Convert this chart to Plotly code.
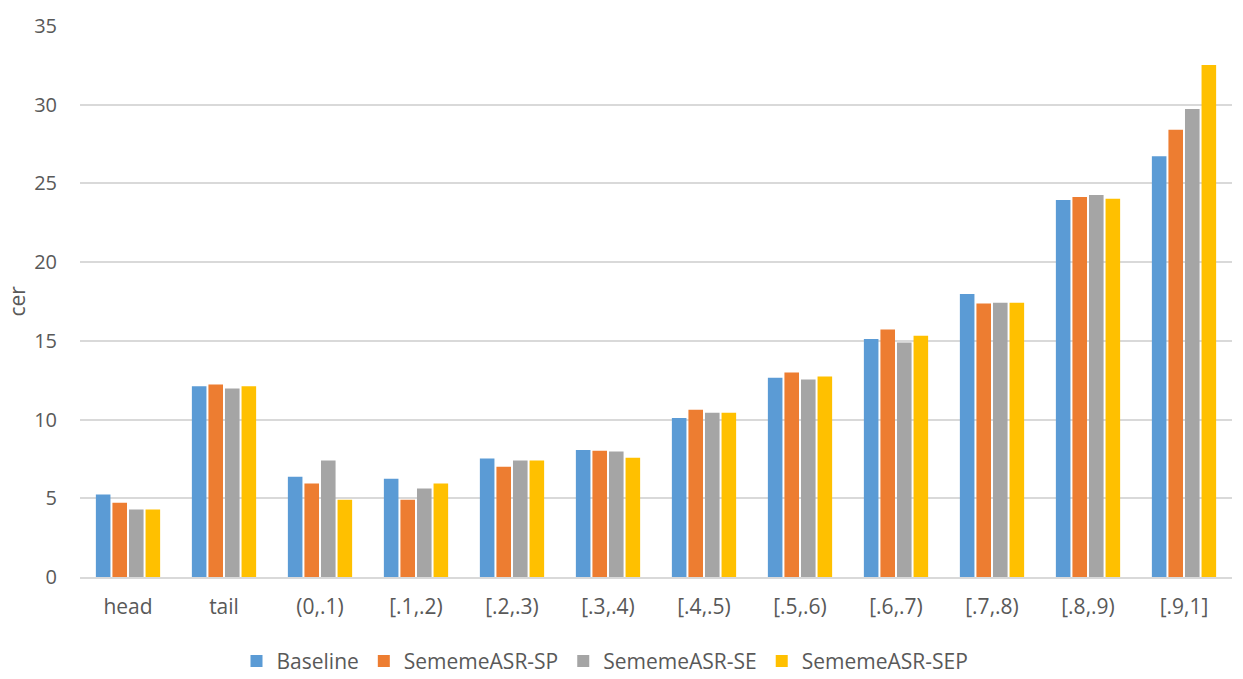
import plotly.graph_objects as go

categories = ["head", "tail", "(0,.1)", "[.1,.2)", "[.2,.3)", "[.3,.4)", "[.4,.5)",
              "[.5,.6)", "[.6,.7)", "[.7,.8)", "[.8,.9)", "[.9,1]"]
baseline = [5.24, 12.11, 6.37, 6.24, 7.52, 8.07, 10.10, 12.66, 15.12, 17.98, 23.94, 26.73]
sp = [4.71, 12.23, 5.94, 4.91, 7.00, 8.02, 10.63, 12.99, 15.72, 17.37, 24.14, 28.41]
se = [4.29, 11.98, 7.40, 5.62, 7.40, 7.97, 10.43, 12.54, 14.89, 17.42, 24.27, 29.73]
sep = [4.29, 12.11, 4.91, 5.94, 7.40, 7.57, 10.43, 12.74, 15.32, 17.42, 24.02, 32.52]

series = [
    ("Baseline", baseline, "#5B9BD5"),
    ("SememeASR-SP", sp, "#ED7D31"),
    ("SememeASR-SE", se, "#A5A5A5"),
    ("SememeASR-SEP", sep, "#FFC000"),
]

FONT = "Open Sans"
TXT = "#595959"
W, H = 1235, 671
L, R, T, B = 72, 11, 18, 102
PW = W - L - R

fig = go.Figure()
for name, vals, col in series:
    fig.add_trace(go.Bar(name=name, x=categories, y=vals, marker=dict(color=col, line=dict(width=0))))

fig.update_layout(
    width=W, height=H,
    barmode="group", bargap=0.31, bargroupgap=0.12,
    plot_bgcolor="white", paper_bgcolor="white",
    margin=dict(l=L, r=R, t=T, b=B, autoexpand=False),
    font=dict(family=FONT, color=TXT, size=20),
    showlegend=True,
    legend=dict(orientation="h", x=(597 - L) / PW, xanchor="center", y=-0.116, yanchor="top",
                font=dict(size=21, color=TXT), itemwidth=30, traceorder="normal"),
    yaxis=dict(range=[0, 35], dtick=5, showgrid=True, gridcolor="#D9D9D9", gridwidth=1.5,
               zeroline=False, showline=False, ticks="", ticklabelstandoff=22,
               tickfont=dict(size=20, color=TXT), automargin=False),
    xaxis=dict(showgrid=False, showline=True, linecolor="#D9D9D9", linewidth=1.5,
               ticks="", ticklabelstandoff=10, automargin=False,
               tickfont=dict(size=21, color=TXT)),
    annotations=[dict(text="cer", xref="paper", yref="paper", x=(8 - L) / PW, y=0.5,
                      xanchor="center", yanchor="middle", textangle=-90, showarrow=False,
                      font=dict(size=21, color=TXT))],
)

fig.write_html("out.html")
